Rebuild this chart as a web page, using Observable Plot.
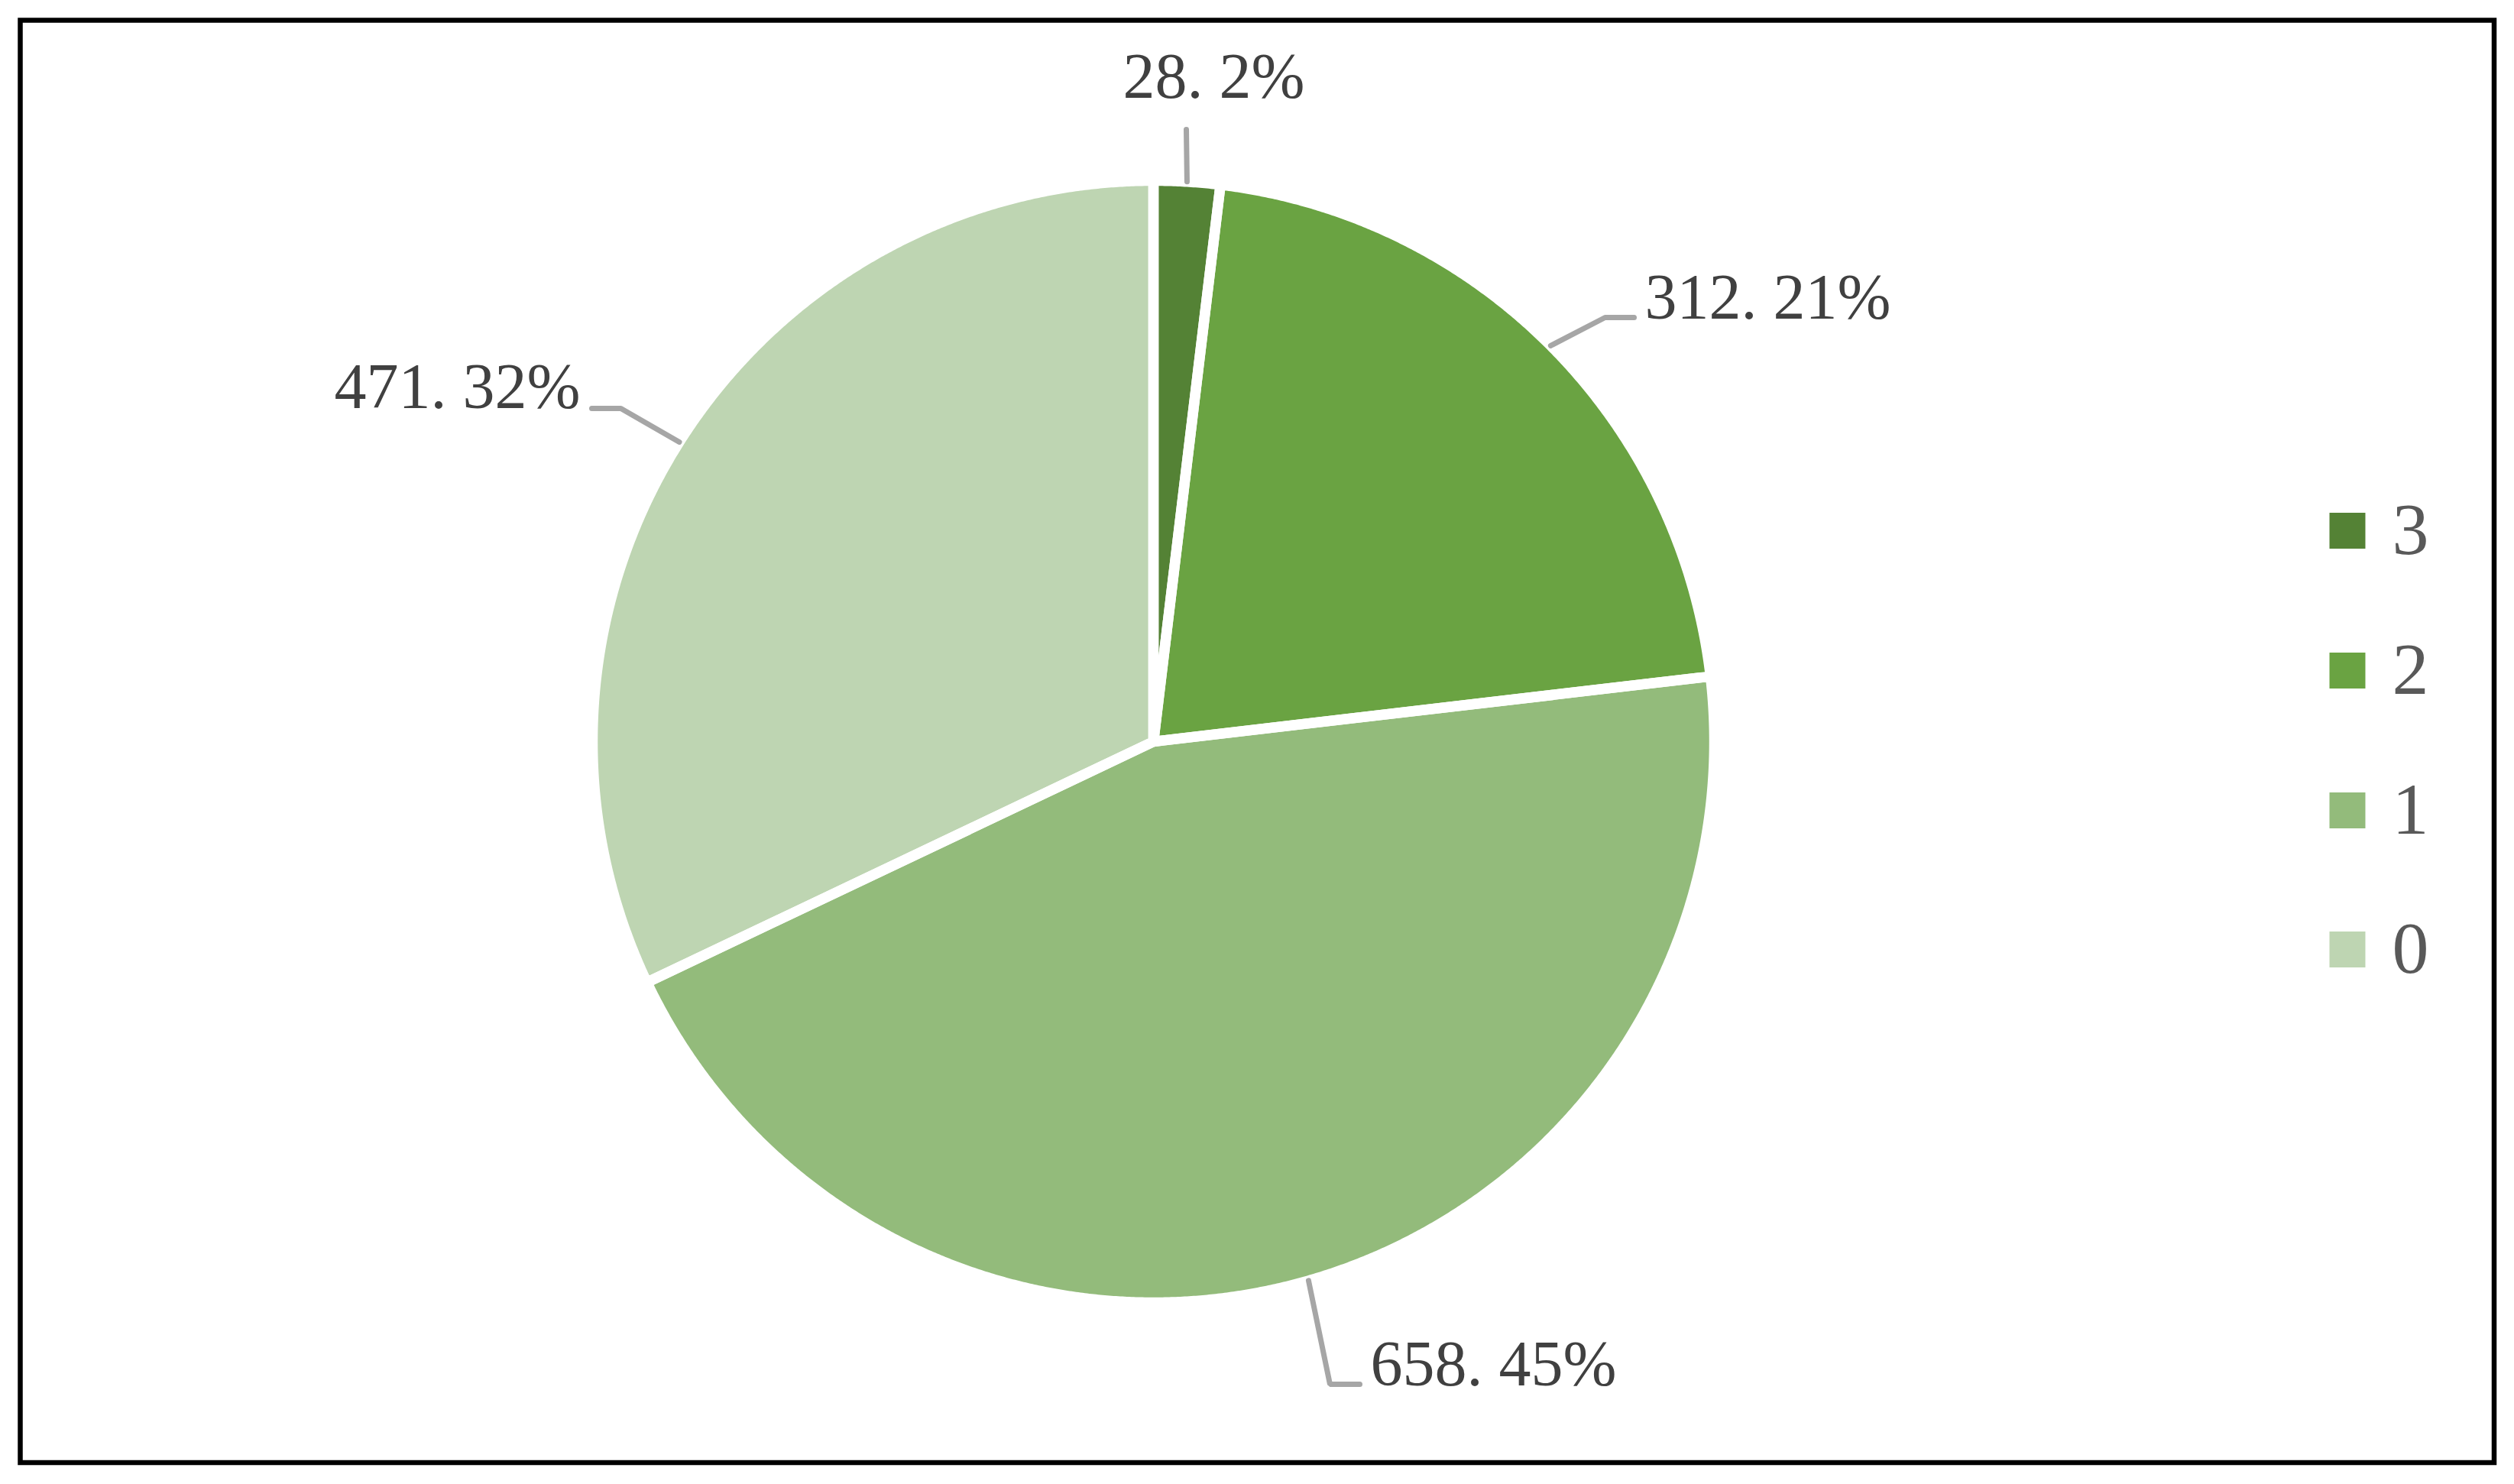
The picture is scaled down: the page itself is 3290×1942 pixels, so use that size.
<!DOCTYPE html>
<html><head><meta charset="utf-8">
<script src="https://cdn.jsdelivr.net/npm/d3@7"></script>
<script src="https://cdn.jsdelivr.net/npm/@observablehq/plot@0.6"></script>
<style>html,body{margin:0;padding:0;background:#fff;} svg{display:block}</style>
</head><body><div id="chart"></div>
<script>
// ---- data ----
const categories = ["3", "2", "1", "0"];
const values = [28, 312, 658, 471];
const colors = ["#548235", "#6aa342", "#93bb7b", "#bed5b2"];
const legendLabels = ["3", "2", "1", "0"];

// ---- layout (pixels) ----
const W = 3290, H = 1942;
const CX = 1509, CY = 970, R = 734;
const SEP = 13.5;
const FONT = "'Liberation Serif', 'Times New Roman', serif";
const LABEL_SIZE = 84, LEGEND_SIZE = 96;
const labelLayout = [
  {elbow: [1552, 169], end: [1552, 169], text: [1588, 127], anchor: "middle"},
  {elbow: [2100, 415], end: [2138, 415], text: [2152, 416], anchor: "start"},
  {elbow: [1740, 1811], end: [1779, 1811], text: [1793, 1812], anchor: "start"},
  {elbow: [812, 534], end: [774, 534], text: [759, 533], anchor: "end"}
];
const legendX = 3071.5, legendTextX = 3130;
const legendY = [694, 877, 1060, 1242];

const ux = px => (px - CX) / R;
const uy = py => (CY - py) / R;

// ---- derived geometry from data ----
const total = d3.sum(values);
const arcs = d3.pie().sort(null).value(d => d)(values);

const wedgePts = [];
arcs.forEach((a, i) => {
  const k = categories[i];
  wedgePts.push({x: 0, y: 0, k});
  const n = Math.max(2, Math.ceil((a.endAngle - a.startAngle) / 0.004));
  for (let j = 0; j <= n; j++) {
    const t = a.startAngle + (a.endAngle - a.startAngle) * j / n;
    wedgePts.push({x: Math.sin(t), y: Math.cos(t), k});
  }
});

const leaderPts = [];
const labelRows = [];
arcs.forEach((a, i) => {
  const k = categories[i];
  const mid = (a.startAngle + a.endAngle) / 2;
  const L = labelLayout[i];
  leaderPts.push({x: Math.sin(mid), y: Math.cos(mid), k});
  leaderPts.push({x: ux(L.elbow[0]), y: uy(L.elbow[1]), k});
  leaderPts.push({x: ux(L.end[0]), y: uy(L.end[1]), k});
  const pct = Math.round(values[i] / total * 100);
  labelRows.push({
    x: ux(L.text[0]),
    y: uy(L.text[1] - 0.32 * LABEL_SIZE),
    text: `${values[i]}. ${pct}%`,
    anchor: L.anchor
  });
});

const legendRows = legendLabels.map((k, i) => ({
  k, x: ux(legendX), tx: ux(legendTextX), y: uy(legendY[i])
}));

const labelMarks = labelRows.map(r => Plot.text([r], {
  x: "x", y: "y", text: "text", textAnchor: r.anchor,
  fontSize: LABEL_SIZE, fill: "#404040", fontFamily: FONT
}));

const chart = Plot.plot({
  width: W, height: H,
  margin: 0,
  x: {domain: [-1, 1], range: [CX - R, CX + R], axis: null},
  y: {domain: [-1, 1], range: [CY + R, CY - R], axis: null},
  color: {domain: categories, range: colors},
  style: {fontFamily: FONT, background: "white"},
  marks: [
    Plot.line(wedgePts, {x: "x", y: "y", z: "k", fill: "k", stroke: "none", curve: "linear-closed"}),
    Plot.line(wedgePts, {x: "x", y: "y", z: "k", fill: "none", stroke: "white", strokeWidth: SEP, strokeLinejoin: "round", curve: "linear-closed"}),
    Plot.line(leaderPts, {x: "x", y: "y", z: "k", stroke: "#a6a6a6", strokeWidth: 7, strokeLinejoin: "miter"}),
    ...labelMarks,
    Plot.dot(legendRows, {x: "x", y: "y", fill: "k", symbol: "square", r: 26.5, stroke: "none"}),
    Plot.text(legendRows, {x: "tx", y: "y", text: "k", textAnchor: "start", fontSize: LEGEND_SIZE, fill: "#595959", fontFamily: FONT}),
    Plot.frame({stroke: "black", strokeWidth: 6.5, fill: "none", insetLeft: 26, insetTop: 26, insetRight: 26.5, insetBottom: 28.5})
  ]
});
document.getElementById("chart").appendChild(chart);
</script>
</body></html>
